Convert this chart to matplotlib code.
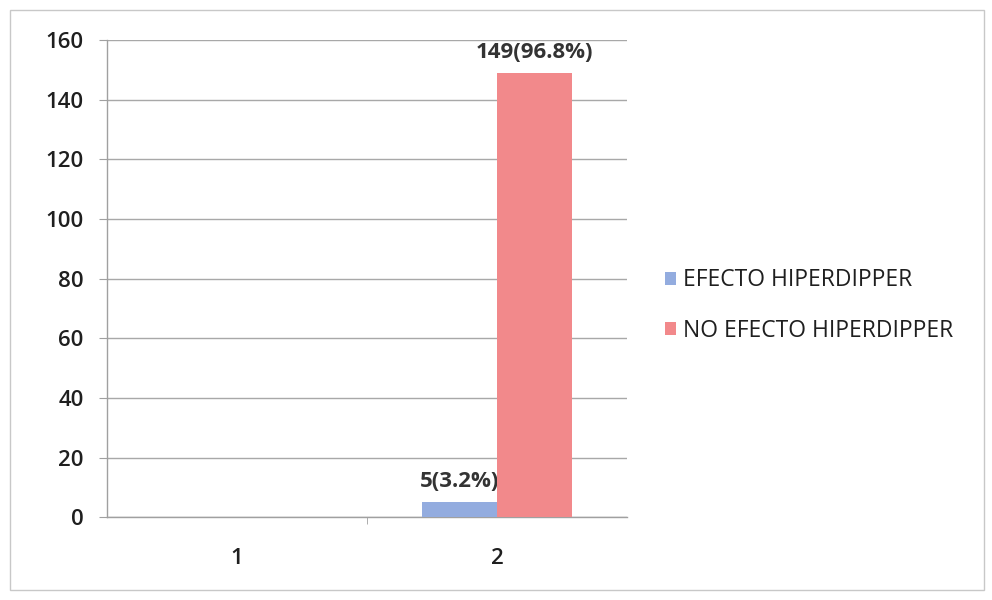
import numpy as np
import matplotlib.pyplot as plt
from matplotlib.patches import Rectangle

plt.rcParams["font.family"] = ["Open Sans", "DejaVu Sans"]

categories = ["1", "2"]
series_names = ["EFECTO HIPERDIPPER", "NO EFECTO HIPERDIPPER"]
efecto = [0, 5]
no_efecto = [0, 149]
pct_efecto = [None, "3.2%"]
pct_no_efecto = [None, "96.8%"]

COLORS = ["#93ACDF", "#F2898B"]
TEXT = "#1F1F1F"

fig = plt.figure(figsize=(9.92, 6.0), dpi=100)
ax = fig.add_axes([0.108, 0.138, 0.524, 0.795])

# chart frame
fig.patches.append(Rectangle((0.010, 0.016), 0.982, 0.968, transform=fig.transFigure,
                             fill=False, edgecolor="#C8C8C8", linewidth=1.0))

x = np.arange(len(categories))
bw = 0.29
series = [efecto, no_efecto]
pcts = [pct_efecto, pct_no_efecto]
for i, (vals, name) in enumerate(zip(series, series_names)):
    pos = x + (i - 0.5) * bw
    ax.bar(pos, vals, width=bw, color=COLORS[i], label=name, zorder=3)
    for p, v, pc in zip(pos, vals, pcts[i]):
        if pc is None:
            continue
        ax.text(p, v + 3.5, f"{v}({pc})", ha="center", va="bottom",
                fontsize=16, fontweight="bold", color="#333333")

ax.set_xlim(-0.5, 1.5)
ax.set_ylim(0, 160)
ax.set_yticks(np.arange(0, 161, 20))
ax.set_xticks(x)
ax.set_xticklabels(categories, fontweight="semibold")
ax.set_xticks([0.5], minor=True)
ax.tick_params(axis="x", which="major", length=0, pad=22, labelsize=16, colors=TEXT)
ax.tick_params(axis="x", which="minor", length=5, color="#A0A0A0", direction="out")
ax.tick_params(axis="y", length=6, color="#A0A0A0", pad=11, labelsize=16, colors=TEXT)
for lbl in ax.get_yticklabels():
    lbl.set_fontweight("semibold")

ax.grid(axis="y", color="#A8A8A8", linewidth=1.0, zorder=0)
ax.set_axisbelow(True)
for s in ["top", "right"]:
    ax.spines[s].set_visible(False)
for s in ["left", "bottom"]:
    ax.spines[s].set_color("#A0A0A0")
    ax.spines[s].set_linewidth(1.0)

ax.legend(loc="center left", bbox_to_anchor=(1.073, 0.444), frameon=False,
          fontsize=16.5, handlelength=0.5, handleheight=0.5, handletextpad=0.3,
          labelspacing=1.15, borderaxespad=0, borderpad=0, labelcolor=TEXT)

fig.savefig("out.png", dpi=100, facecolor="white")
